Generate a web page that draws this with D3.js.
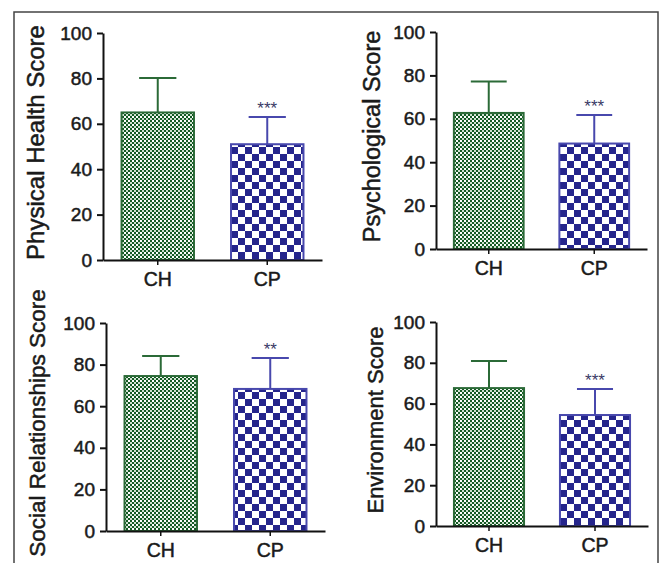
<!DOCTYPE html>
<html>
<head>
<meta charset="utf-8">
<script src="https://cdn.jsdelivr.net/npm/d3@7"></script>
<style>
  html, body { margin: 0; padding: 0; background: #fff; }
  svg { display: block; font-family: "Liberation Sans", Arial, sans-serif; }
</style>
</head>
<body>
<svg id="chart" width="664" height="563"></svg>
<script>
// ---- data ----
const groups = ["CH", "CP"];
const titles = ["Physical Health Score", "Psychological Score", "Social Relationships Score", "Environment Score"];
const meanCH = [65, 62.7, 74.5, 67.6];
const meanCP = [51, 48.6, 68.3, 54.4];
const errCH = [15.2, 14.5, 9.6, 13.3];
const errCP = [12, 13.2, 14.9, 12.8];
const stars = ["***", "***", "**", "***"];
const yTicks = [0, 20, 40, 60, 80, 100];

// ---- layout ----
const panels = [
  { x0: 103, x1: 322, yt: 33, yb: 260, tx: 36, tfs: 24 },
  { x0: 436, x1: 647, yt: 32, yb: 249, tx: 372, tfs: 23.5 },
  { x0: 106, x1: 325, yt: 323, yb: 531, tx: 37, tfs: 22.5 },
  { x0: 436, x1: 648, yt: 322, yb: 526, tx: 375, tfs: 22 }
];
const green = "#145a24", greenLine = "#2b6a37";
const navy = "#25258c", navyLine = "#4848ad";
const textCol = "#1a1a1a";

const svg = d3.select("#chart");
const defs = svg.append("defs");

const pg = defs.append("pattern").attr("id", "pGreen")
  .attr("patternUnits", "userSpaceOnUse").attr("width", 4).attr("height", 4);
pg.append("rect").attr("width", 4).attr("height", 4).attr("fill", green);
pg.append("rect").attr("x", 0).attr("y", 0).attr("width", 2).attr("height", 2).attr("fill", "#fff");
pg.append("rect").attr("x", 2).attr("y", 2).attr("width", 2).attr("height", 2).attr("fill", "#cfe0d0");

const pb = defs.append("pattern").attr("id", "pBlue")
  .attr("patternUnits", "userSpaceOnUse").attr("width", 14).attr("height", 14);
pb.append("rect").attr("width", 14).attr("height", 14).attr("fill", "#fff");
pb.append("rect").attr("x", 0).attr("y", 0).attr("width", 7).attr("height", 7).attr("fill", navy);
pb.append("rect").attr("x", 7).attr("y", 7).attr("width", 7).attr("height", 7).attr("fill", navy);

// outer frame
svg.append("path").attr("d", "M14,563 L14,12 L658,12 L658,563")
  .attr("fill", "none").attr("stroke", "#444").attr("stroke-width", 1.5);

const fills = ["url(#pGreen)", "url(#pBlue)"];
const strokes = [greenLine, navyLine];

function heavy(sel, col) {
  sel.attr("fill", col).attr("stroke", col).attr("stroke-width", 0.5)
    .attr("font-family", "Liberation Sans, Arial, sans-serif");
}

panels.forEach((p, i) => {
  const g = svg.append("g");
  const x = d3.scaleBand().domain(groups).range([p.x0, p.x1]).paddingInner(0.32).paddingOuter(0.16);
  const y = d3.scaleLinear().domain([0, 100]).range([p.yb, p.yt]);
  const means = [meanCH[i], meanCP[i]];
  const errs = [errCH[i], errCP[i]];
  const bw = x.bandwidth();

  const data = groups.map((k, j) => ({ k, j, m: means[j], e: errs[j] }));

  // error bars (upward only)
  const eb = g.selectAll("g.err").data(data).enter().append("g");
  eb.append("line")
    .attr("x1", d => x(d.k) + bw / 2).attr("x2", d => x(d.k) + bw / 2)
    .attr("y1", d => y(d.m)).attr("y2", d => y(d.m + d.e))
    .attr("stroke", d => strokes[d.j]).attr("stroke-width", 2);
  eb.append("line")
    .attr("x1", d => x(d.k) + bw * 0.25).attr("x2", d => x(d.k) + bw * 0.75)
    .attr("y1", d => y(d.m + d.e)).attr("y2", d => y(d.m + d.e))
    .attr("stroke", d => strokes[d.j]).attr("stroke-width", 2);

  // bars
  g.selectAll("rect.bar").data(data).enter().append("rect")
    .attr("x", d => x(d.k) + 1).attr("width", bw - 2)
    .attr("y", d => y(d.m)).attr("height", d => y(0) - y(d.m))
    .attr("fill", d => fills[d.j])
    .attr("stroke", d => strokes[d.j]).attr("stroke-width", 2);

  // significance stars
  g.append("text")
    .attr("x", x("CP") + bw / 2).attr("y", y(meanCP[i] + errCP[i]) - 3)
    .attr("text-anchor", "middle").attr("font-size", 17)
    .attr("fill", "#3a3a66").text(stars[i]);

  // y axis
  const ya = g.append("g").attr("transform", `translate(${p.x0},0)`)
    .call(d3.axisLeft(y).tickValues(yTicks).tickSize(6).tickSizeOuter(0).tickPadding(5));
  ya.select(".domain").attr("stroke", "#111").attr("stroke-width", 2);
  ya.selectAll(".tick line").attr("stroke", "#111").attr("stroke-width", 2);
  ya.selectAll(".tick text").attr("font-size", 19).call(heavy, textCol);

  // x axis
  const xa = g.append("g").attr("transform", `translate(0,${p.yb})`)
    .call(d3.axisBottom(x).tickSize(5).tickSizeOuter(0).tickPadding(7));
  xa.select(".domain").attr("stroke", "#111").attr("stroke-width", 2);
  xa.selectAll(".tick line").attr("stroke", "#111").attr("stroke-width", 1.5);
  xa.selectAll(".tick text").attr("font-size", 19.5).call(heavy, textCol);

  // y title
  const cy = (p.yt + p.yb) / 2 - 4;
  g.append("text")
    .attr("transform", `translate(${p.tx + 8},${cy}) rotate(-90)`)
    .attr("text-anchor", "middle").attr("font-size", p.tfs)
    .call(heavy, textCol)
    .text(titles[i]);
});
</script>
</body>
</html>
